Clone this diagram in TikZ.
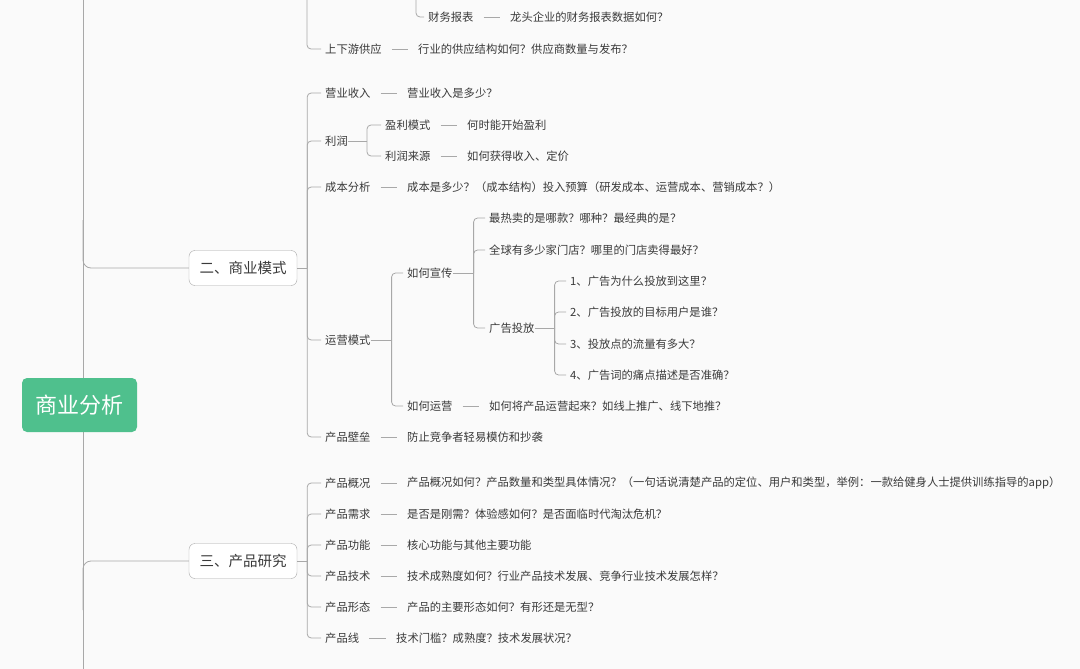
\documentclass[tikz,border=0pt]{standalone}
\usepackage{fontspec}
\setmainfont{Noto Sans CJK SC}
\definecolor{bg}{HTML}{FAFAFA}
\definecolor{ln}{HTML}{A8A8A8}
\definecolor{tx}{HTML}{3A3A3A}
\definecolor{gr}{HTML}{4FC08D}
\tikzset{
  lab/.style={anchor=west,inner sep=0pt,text=tx,font=\fontsize{11.3}{13}\selectfont},
  box/.style={draw=ln,rounded corners=6pt,fill=white,text=tx,minimum width=108pt,minimum height=35pt,inner sep=0pt,font=\fontsize{14.5}{16}\selectfont},
  ln/.style={draw=ln,line width=0.8pt},
  br/.style={ln,rounded corners=4pt,shorten >=4pt},
  dsh/.style={ln,shorten <=10pt,shorten >=10pt}
}
\newcommand{\brk}[3]{\draw[br] (#1.east) ++(#2,0) |- (#3.west);}
\newcommand{\stem}[2]{\draw[ln] (#1.east) -- ++(#2,0);}
\begin{document}
\begin{tikzpicture}[x=1pt,y=-1pt]
\fill[bg] (0,0) rectangle (1080,669);
\useasboundingbox (0,0) rectangle (1080,669);
% trunk
\coordinate (tt) at (83,0);
\coordinate (tb) at (83,669);
\draw[ln] (tt) -- (tb);
\node[box] (b2) at (243,268) {二、商业模式};
\node[box] (b3) at (243,561) {三、产品研究};
\draw[ln,rounded corners=8pt] (83,220) |- (b2.west);
\draw[ln,rounded corners=8pt] (83,610) |- (b3.west);
% top remnants
\coordinate (t1) at (307,-5);
\coordinate (t2) at (416,-5);
\node[lab] (cw) at (428,17) {财务报表};
\node[lab] (cwt) at (510,17) {龙头企业的财务报表数据如何？};
\node[lab] (sx) at (325,49) {上下游供应};
\node[lab] (sxt) at (418,49) {行业的供应结构如何？供应商数量与发布？};
\draw[br] (t2) |- (cw.west);
\draw[br] (t1) |- (sx.west);
\draw[dsh] (cw.east) -- (cwt.west);
\draw[dsh] (sx.east) -- (sxt.west);
% branch 2
\node[lab] (a1) at (325,93) {营业收入};
\node[lab] (a1t) at (407,93) {营业收入是多少？};
\node[lab] (a2) at (325,141) {利润};
\node[lab] (a21) at (385,125) {盈利模式};
\node[lab] (a21t) at (467,125) {何时能开始盈利};
\node[lab] (a22) at (385,156) {利润来源};
\node[lab] (a22t) at (467,156) {如何获得收入、定价};
\node[lab] (a3) at (325,187) {成本分析};
\node[lab] (a3t) at (407,187) {成本是多少？（成本结构）投入预算（研发成本、运营成本、营销成本？）};
\node[lab] (a4) at (325,340) {运营模式};
\node[lab] (a41) at (407,273) {如何宣传};
\node[lab] (a411) at (489,218) {最热卖的是哪款？哪种？最经典的是？};
\node[lab] (a412) at (489,250) {全球有多少家门店？哪里的门店卖得最好？};
\node[lab] (a413) at (489,328) {广告投放};
\node[lab] (g1) at (570,281) {1、广告为什么投放到这里？};
\node[lab] (g2) at (570,312) {2、广告投放的目标用户是谁？};
\node[lab] (g3) at (570,344) {3、投放点的流量有多大？};
\node[lab] (g4) at (570,375) {4、广告词的痛点描述是否准确？};
\node[lab] (a42) at (407,406) {如何运营};
\node[lab] (a42t) at (489,406) {如何将产品运营起来？如线上推广、线下地推？};
\node[lab] (a5) at (325,437) {产品壁垒};
\node[lab] (a5t) at (407,437) {防止竞争者轻易模仿和抄袭};
\stem{b2}{10}
\foreach \c in {a1,a2,a3,a4,a5} {\brk{b2}{10}{\c}}
\draw[dsh] (a1.east) -- (a1t.west);
\draw[dsh] (a3.east) -- (a3t.west);
\draw[dsh] (a5.east) -- (a5t.west);
\stem{a2}{19}
\brk{a2}{19}{a21}\brk{a2}{19}{a22}
\draw[dsh] (a21.east) -- (a21t.west);
\draw[dsh] (a22.east) -- (a22t.west);
\stem{a4}{21}
\brk{a4}{21}{a41}\brk{a4}{21}{a42}
\draw[dsh] (a42.east) -- (a42t.west);
\stem{a41}{21}
\foreach \c in {a411,a412,a413} {\brk{a41}{21}{\c}}
\stem{a413}{20}
\foreach \c in {g1,g2,g3,g4} {\brk{a413}{20}{\c}}
% branch 3
\node[lab] (p1) at (325,483) {产品概况};
\node[lab] (p1t) at (407,483) {产品概况如何？产品数量和类型具体情况？（一句话说清楚产品的定位、用户和类型，举例：一款给健身人士提供训练指导的app）};
\node[lab] (p2) at (325,514) {产品需求};
\node[lab] (p2t) at (407,514) {是否是刚需？体验感如何？是否面临时代淘汰危机？};
\node[lab] (p3) at (325,545) {产品功能};
\node[lab] (p3t) at (407,545) {核心功能与其他主要功能};
\node[lab] (p4) at (325,576) {产品技术};
\node[lab] (p4t) at (407,576) {技术成熟度如何？行业产品技术发展、竞争行业技术发展怎样？};
\node[lab] (p5) at (325,607) {产品形态};
\node[lab] (p5t) at (407,607) {产品的主要形态如何？有形还是无型？};
\node[lab] (p6) at (325,638) {产品线};
\node[lab] (p6t) at (396,638) {技术门槛？成熟度？技术发展状况？};
\stem{b3}{10}
\foreach \c in {p1,p2,p3,p4,p5,p6} {\brk{b3}{10}{\c}\draw[dsh] (\c.east) -- (\c t.west);}
% root
\node[fill=gr,rounded corners=5pt,text=white,minimum width=115pt,minimum height=54pt,inner sep=0pt,font=\fontsize{22}{24}\selectfont] (root) at (79.5,405) {商业分析};
\end{tikzpicture}
\end{document}
